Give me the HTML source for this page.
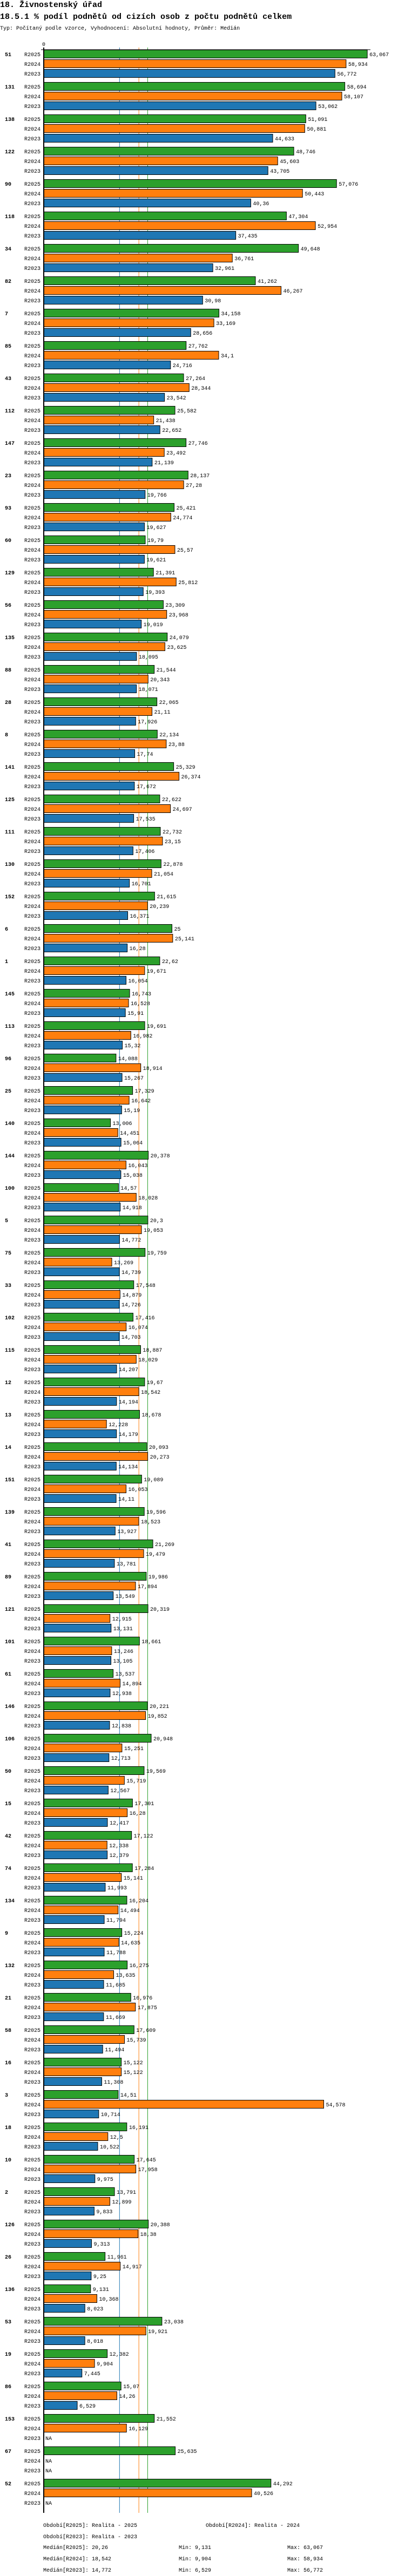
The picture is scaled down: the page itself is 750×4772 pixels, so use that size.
<!DOCTYPE html>
<html><head><meta charset="utf-8">
<style>
html,body{margin:0;padding:0;background:#fff;}
svg{display:block;}
text{font-family:"Liberation Mono",monospace;fill:#000;}
</style></head>
<body>
<svg id="chart" width="750" height="4772" xmlns="http://www.w3.org/2000/svg">
<text x="0" y="13" font-size="15" font-weight="bold">18. Živnostenský úřad</text>
<text x="0" y="35" font-size="15" font-weight="bold">18.5.1 % podíl podnětů od cizích osob z počtu podnětů celkem</text>
<text x="0" y="55" font-size="10">Typ: Počítaný podle vzorce, Vyhodnocení: Absolutní hodnoty, Průměr: Medián</text>
<text x="78" y="85" font-size="10">0</text>
<g id="medians"></g>
<g id="bars"></g>
<line x1="76" y1="92" x2="686" y2="92" stroke="#000" stroke-width="1"/>
<line x1="81" y1="88" x2="81" y2="4655" stroke="#000" stroke-width="2"/>
<g id="legend" font-size="10">
<text x="80" y="4681">Období[R2025]: Realita - 2025</text>
<text x="381" y="4681">Období[R2024]: Realita - 2024</text>
<text x="80" y="4702">Období[R2023]: Realita - 2023</text>
<text x="80" y="4722">Medián[R2025]: 20,26</text>
<text x="331" y="4722">Min: 9,131</text>
<text x="532" y="4722">Max: 63,067</text>
<text x="80" y="4743">Medián[R2024]: 18,542</text>
<text x="331" y="4743">Min: 9,904</text>
<text x="532" y="4743">Max: 58,934</text>
<text x="80" y="4764">Medián[R2023]: 14,772</text>
<text x="331" y="4764">Min: 6,529</text>
<text x="532" y="4764">Max: 56,772</text>
</g>
</svg>
<script>
const groups = ["51","131","138","122","90","118","34","82","7","85","43","112","147","23","93","60","129","56","135","88","28","8","141","125","111","130","152","6","1","145","113","96","25","140","144","100","5","75","33","102","115","12","13","14","151","139","41","89","121","101","61","146","106","50","15","42","74","134","9","132","21","58","16","3","18","10","2","126","26","136","53","19","86","153","67","52"];
const v2025 = [63.067,58.694,51.091,48.746,57.076,47.304,49.648,41.262,34.158,27.762,27.264,25.582,27.746,28.137,25.421,19.79,21.391,23.309,24.079,21.544,22.065,22.134,25.329,22.622,22.732,22.878,21.615,25,22.62,16.743,19.691,14.088,17.329,13.006,20.378,14.57,20.3,19.759,17.548,17.416,18.887,19.67,18.678,20.093,19.089,19.596,21.269,19.986,20.319,18.661,13.537,20.221,20.948,19.569,17.301,17.122,17.284,16.204,15.224,16.275,16.976,17.609,15.122,14.51,16.191,17.645,13.791,20.388,11.961,9.131,23.038,12.382,15.07,21.552,25.635,44.292];
const v2024 = [58.934,58.107,50.881,45.603,50.443,52.954,36.761,46.267,33.169,34.1,28.344,21.438,23.492,27.28,24.774,25.57,25.812,23.968,23.625,20.343,21.11,23.88,26.374,24.697,23.15,21.054,20.239,25.141,19.671,16.528,16.982,18.914,16.642,14.451,16.043,18.028,19.053,13.269,14.879,16.074,18.029,18.542,12.228,20.273,16.053,18.523,19.479,17.894,12.915,13.246,14.894,19.852,15.251,15.719,16.28,12.338,15.141,14.494,14.635,13.635,17.875,15.739,15.122,54.578,12.5,17.958,12.899,18.38,14.917,10.368,19.921,9.904,14.26,16.129,null,40.526];
const v2023 = [56.772,53.062,44.633,43.705,40.36,37.435,32.961,30.98,28.656,24.716,23.542,22.652,21.139,19.766,19.627,19.621,19.393,19.019,18.095,18.071,17.926,17.74,17.672,17.535,17.406,16.701,16.371,16.28,16.054,15.91,15.32,15.267,15.19,15.064,15.038,14.918,14.772,14.739,14.726,14.703,14.207,14.194,14.179,14.134,14.11,13.927,13.781,13.549,13.131,13.105,12.938,12.838,12.713,12.567,12.417,12.379,11.993,11.794,11.788,11.685,11.669,11.494,11.308,10.714,10.522,9.975,9.833,9.313,9.25,8.023,8.018,7.445,6.529,null,null,null];
const seriesNames = ["R2025","R2024","R2023"];
const medians = [20.26,18.542,14.772];

const colors = ["#2ca02c","#ff7f0e","#1f77b4"];
const NS = "http://www.w3.org/2000/svg";
const X0 = 81, SCALE = 9.5, TOP = 92, GROUP = 60, ROW = 18, BH = 16;
function xs(v){ return X0 + v * SCALE; }
function yRow(g, r){ return TOP + g * GROUP + r * ROW; }
function fmt(v){ return String(v).replace('.', ','); }
function mk(tag, attrs, parent){
  const el = document.createElementNS(NS, tag);
  for (const k in attrs) el.setAttribute(k, attrs[k]);
  parent.appendChild(el);
  return el;
}
const medG = document.getElementById('medians');
medians.forEach((m, i) => {
  const ln = mk('line', {x1: xs(m), x2: xs(m), y1: 88, y2: 4655, stroke: colors[i], 'stroke-width': 1}, medG);
  
  
});
const barsG = document.getElementById('bars');
const series = [v2025, v2024, v2023];
groups.forEach((gname, g) => {
  const gl = mk('text', {x: 9, y: yRow(g, 0) + 12, 'font-size': 10, 'font-weight': 'bold'}, barsG);
  gl.textContent = gname;
  
  
  series.forEach((arr, r) => {
    const y = yRow(g, r);
    const rl = mk('text', {x: 75, y: y + 12, 'font-size': 10, 'text-anchor': 'end'}, barsG);
    rl.textContent = seriesNames[r];
    
    
    const v = arr[g];
    if (v === null) {
      const na = mk('text', {x: 84, y: y + 12, 'font-size': 10}, barsG);
      na.textContent = 'NA';
      
      
      return;
    }
    const b = mk('rect', {x: X0, y: y + 0.5, width: xs(v) - X0, height: BH - 1, fill: colors[r], stroke: '#000', 'stroke-width': 1}, barsG);
    
    
    const t = mk('text', {x: xs(v) + 4, y: y + 12, 'font-size': 10}, barsG);
    t.textContent = fmt(v);
    
    
  });
});
</script>
</body></html>
